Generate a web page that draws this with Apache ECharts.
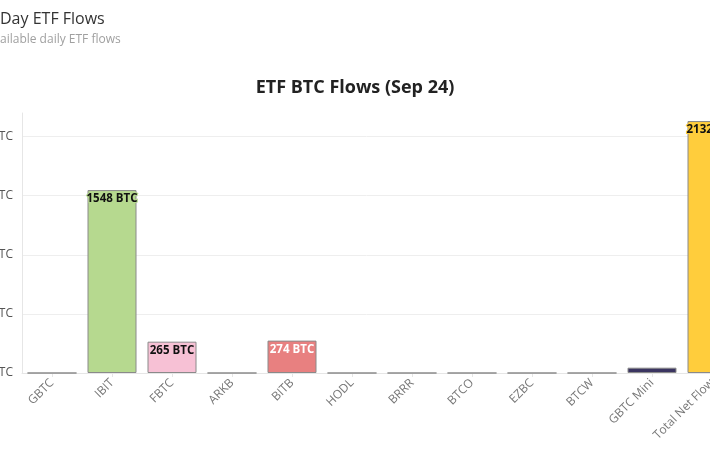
<!DOCTYPE html>
<html>
<head>
<meta charset="utf-8">
<script src="https://cdn.jsdelivr.net/npm/echarts@6/dist/echarts.min.js"></script>
<style>
  html, body { margin: 0; padding: 0; background: #fff; }
  #chart { width: 710px; height: 458px; }
</style>
</head>
<body>
<div id="chart"></div>
<script>
// ETF flows for the day, in BTC
const categories = ['GBTC', 'IBIT', 'FBTC', 'ARKB', 'BITB', 'HODL', 'BRRR', 'BTCO', 'EZBC', 'BTCW', 'GBTC Mini', 'Total Net Flow'];
const flows = [0, 1548, 265, 0, 274, 0, 0, 0, 0, 0, 45, 2132];
const barColors = ['#e8e8e8', '#b6d98f', '#f7c1d5', '#e8e8e8', '#e88080', '#e8e8e8', '#e8e8e8', '#e8e8e8', '#e8e8e8', '#e8e8e8', '#3b3561', '#ffcd3c'];
const labelColors = ['#222', '#111', '#111', '#222', '#fff', '#222', '#222', '#222', '#222', '#222', '#fff', '#111'];
const yTicks = [0, 500, 1000, 1500, 2000];

var dom = document.getElementById('chart');
var myChart = echarts.init(dom, null, { renderer: 'canvas' });

const barData = flows.map(function (v, i) {
  return {
    value: v,
    itemStyle: { color: barColors[i] },
    label: {
      show: v > 100,
      color: labelColors[i],
      textBorderColor: barColors[i],
      textBorderWidth: 2
    }
  };
});

var option = {
  animation: false,
  textStyle: { fontFamily: 'Open Sans' },
  title: [
    {
      text: 'Day ETF Flows',
      left: 0,
      top: 11,
      padding: 0,
      textStyle: { fontSize: 16, fontWeight: 'normal', color: '#333' }
    },
    {
      text: 'ailable daily ETF flows',
      left: 0,
      top: 34,
      padding: 0,
      textStyle: { fontSize: 12, fontWeight: 'normal', color: '#a0a0a0' }
    },
    {
      text: 'ETF BTC Flows (Sep 24)',
      left: 'center',
      top: 74,
      textStyle: { fontSize: 18, fontWeight: 'bold', color: '#222' }
    }
  ],
  grid: {
    left: 22,
    top: 113,
    width: 720,
    bottom: 85,
    containLabel: false,
    outerBoundsMode: 'none'
  },
  xAxis: {
    type: 'category',
    data: categories,
    axisLine: { show: true, lineStyle: { color: '#e6e6e6' } },
    axisTick: { show: true, alignWithLabel: true, length: 4, lineStyle: { color: '#e6e6e6' } },
    axisLabel: {
      rotate: 45,
      interval: 0,
      color: '#777',
      fontSize: 12,
      margin: 8
    }
  },
  yAxis: {
    type: 'value',
    min: 0,
    max: 2200,
    interval: 500,
    axisLine: { show: true, lineStyle: { color: '#e6e6e6' } },
    axisTick: { show: false },
    axisLabel: {
      color: '#555',
      fontSize: 12,
      margin: 9,
      showMaxLabel: false,
      formatter: function (v) {
        return yTicks.indexOf(v) >= 0 ? v + ' BTC' : '';
      }
    },
    splitLine: { show: true, showMaxLine: false, lineStyle: { color: '#eeeeee' } }
  },
  series: [
    {
      type: 'bar',
      data: barData,
      barWidth: 49,
      itemStyle: { borderColor: '#8a8a8a', borderWidth: 1 },
      label: {
        show: true,
        position: 'insideTop',
        distance: 3,
        fontSize: 11.5,
        fontWeight: 'bold',
        formatter: '{c} BTC'
      }
    }
  ]
};

myChart.setOption(option);
window.addEventListener('resize', myChart.resize);
</script>
</body>
</html>
